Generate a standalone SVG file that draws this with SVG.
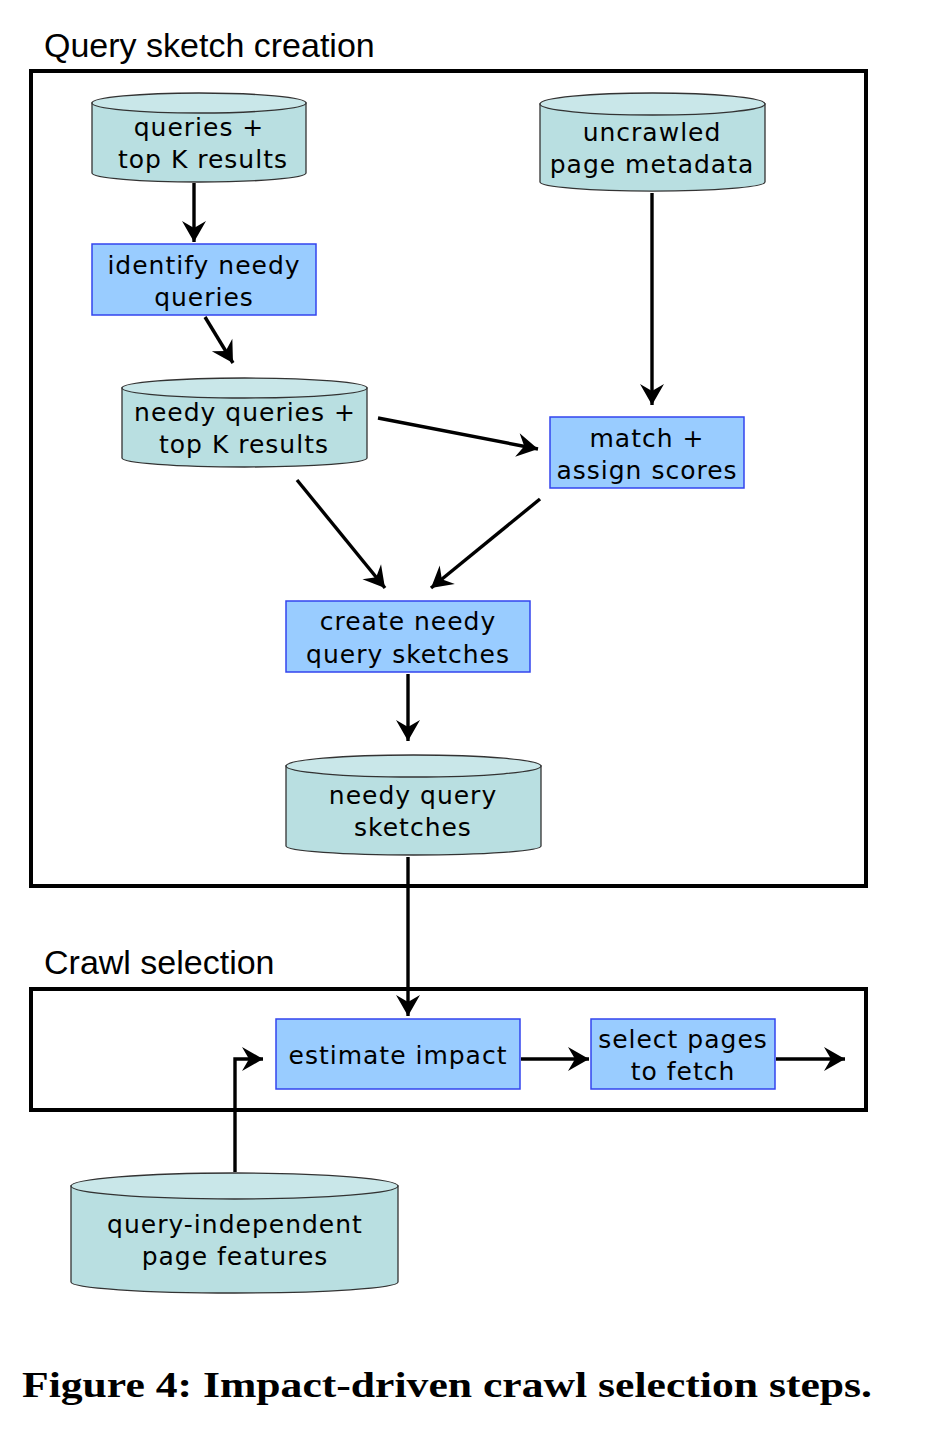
<svg xmlns="http://www.w3.org/2000/svg" width="946" height="1432" viewBox="0 0 946 1432">
<style>
.frame{fill:none;stroke:#000;stroke-width:4}
.sec{font-family:"Liberation Sans",Arial,sans-serif;font-size:34px;fill:#000}
.t{font-family:"DejaVu Sans",Verdana,sans-serif;font-size:25px;letter-spacing:1px;fill:#000;text-anchor:middle}
.box{fill:#99ccff;stroke:#3344ee;stroke-width:1.5}
.body{fill:#b9dfe1;stroke:#333;stroke-width:1.3}
.top{fill:#c9e7e9;stroke:#333;stroke-width:1.3}
.c{fill:none;stroke:#000;stroke-width:3.4;marker-end:url(#ah)}
.cap{font-family:"Liberation Serif","Times New Roman",serif;font-weight:bold;font-size:35px;fill:#000}
</style>
<defs>
<marker id="ah" markerUnits="userSpaceOnUse" markerWidth="28" markerHeight="28" viewBox="-24 -14 28 28" refX="0" refY="0" orient="auto">
<path d="M0,0 L-21,-12 L-14,0 L-21,12 Z" fill="#000"/>
</marker>
</defs>
<rect width="946" height="1432" fill="#fff"/>
<text class="sec" x="44" y="57">Query sketch creation</text>
<rect class="frame" x="31" y="71" width="835" height="815"/>
<text class="sec" x="44" y="974">Crawl selection</text>
<rect class="frame" x="31" y="989" width="835" height="121"/>

<g id="connectors">
<path class="c" d="M194,183 L194,242"/>
<path class="c" d="M205,317 L233,363"/>
<path class="c" d="M652,193 L652,405"/>
<path class="c" d="M378,418 L538,449"/>
<path class="c" d="M297,480 L385,588"/>
<path class="c" d="M540,499 L431,588"/>
<path class="c" d="M408,674 L408,741"/>
<path class="c" d="M408,857 L408,1016"/>
<path class="c" d="M521,1059 L589,1059"/>
<path class="c" d="M776,1059 L845,1059"/>
<path class="c" d="M235,1172 L235,1059 L263,1059"/>
</g>

<g id="queries-topk">
<path class="body" d="M92,103 L92,173 A107,9 0 0 0 306,173 L306,103 Z"/>
<ellipse class="top" cx="199" cy="103" rx="107" ry="10"/>
<text class="t" x="199" y="136">queries +</text>
<text class="t" x="203" y="168">top K results</text>
</g>

<g id="uncrawled">
<path class="body" d="M540,104 L540,182 A112,9 0 0 0 765,182 L765,104 Z"/>
<ellipse class="top" cx="652.5" cy="104" rx="112.5" ry="11"/>
<text class="t" x="652" y="141">uncrawled</text>
<text class="t" x="652" y="173">page metadata</text>
</g>

<g id="identify">
<rect class="box" x="92" y="244" width="224" height="71"/>
<text class="t" x="204" y="274">identify needy</text>
<text class="t" x="204" y="306">queries</text>
</g>

<g id="needy-topk">
<path class="body" d="M122,388 L122,458 A122.5,9 0 0 0 367,458 L367,388 Z"/>
<ellipse class="top" cx="244.5" cy="388" rx="122.5" ry="10"/>
<text class="t" x="245" y="421">needy queries +</text>
<text class="t" x="244" y="453">top K results</text>
</g>

<g id="match">
<rect class="box" x="550" y="417" width="194" height="71"/>
<text class="t" x="647" y="447">match +</text>
<text class="t" x="647" y="479">assign scores</text>
</g>

<g id="create">
<rect class="box" x="286" y="601" width="244" height="71"/>
<text class="t" x="408" y="630">create needy</text>
<text class="t" x="408" y="663">query sketches</text>
</g>

<g id="sketches">
<path class="body" d="M286,766 L286,846 A127.5,9 0 0 0 541,846 L541,766 Z"/>
<ellipse class="top" cx="413.5" cy="766" rx="127.5" ry="11"/>
<text class="t" x="413" y="804">needy query</text>
<text class="t" x="413" y="836">sketches</text>
</g>

<g id="estimate">
<rect class="box" x="276" y="1019" width="244" height="70"/>
<text class="t" x="398" y="1064">estimate impact</text>
</g>

<g id="select">
<rect class="box" x="591" y="1019" width="184" height="70"/>
<text class="t" x="683" y="1048">select pages</text>
<text class="t" x="683" y="1080">to fetch</text>
</g>

<g id="features">
<path class="body" d="M71,1186 L71,1282 A163.5,11 0 0 0 398,1282 L398,1186 Z"/>
<ellipse class="top" cx="234.5" cy="1186" rx="163.5" ry="13"/>
<text class="t" x="235" y="1233">query-independent</text>
<text class="t" x="235" y="1265">page features</text>
</g>

<text class="cap" x="22" y="1397" textLength="850" lengthAdjust="spacingAndGlyphs">Figure 4:  Impact-driven crawl selection steps.</text>
</svg>
